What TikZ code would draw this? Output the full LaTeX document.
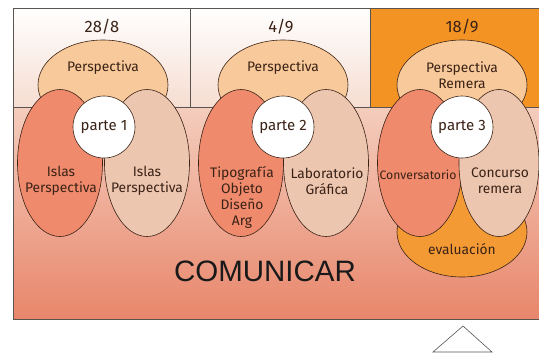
\documentclass[tikz,border=0pt]{standalone}
\usepackage{fontspec}
\setmainfont{Fira Sans}
\newfontfamily\bannerfont{Liberation Sans}
\usepackage{tikz}
\usetikzlibrary{shapes.geometric}
\usetikzlibrary{positioning}
\definecolor{framegray}{HTML}{5A5450}
\definecolor{inkbrown}{HTML}{3A2216}
\definecolor{peach}{HTML}{F8C99A}
\definecolor{salmon}{HTML}{EF8A6D}
\definecolor{blush}{HTML}{EDC6B0}
\definecolor{tangerine}{HTML}{F39A35}
\definecolor{dayorange}{HTML}{F39324}
\definecolor{bandtop}{HTML}{F4CDBD}
\definecolor{bandbot}{HTML}{E8866B}
\definecolor{boxbot}{HTML}{F6DDD1}
\tikzstyle{dome} = [ellipse,
    minimum width=130pt,
    minimum height=90pt,
    inner sep=0pt,
    draw=inkbrown,
    fill=peach]
\tikzstyle{lobe} = [ellipse,
    minimum width=85pt,
    minimum height=147pt,
    inner sep=0pt,
    draw=inkbrown,
    fill=salmon]
\tikzstyle{lobelight} = [lobe, fill=blush]
\tikzstyle{hub} = [circle,
    minimum size=62pt,
    inner sep=0pt,
    draw=inkbrown,
    fill=white,
    text=inkbrown,
    font=\fontsize{15}{17}\selectfont]
\tikzstyle{lbl} = [text=inkbrown, align=center, inner sep=0pt,
    font=\fontsize{13.8}{16}\selectfont]
\tikzstyle{datelbl} = [text=inkbrown, inner sep=0pt,
    font=\fontsize{16.5}{18}\selectfont]

\begin{document}
\begin{tikzpicture}[x=1pt, y=-1pt, line width=0.6pt]
\useasboundingbox (0,0) rectangle (539,357);

% days and band
\shade[top color=white, bottom color=boxbot] (13,8) rectangle (370,107);
\fill[dayorange] (370,8) rectangle (550,107);
\shade[top color=bandtop, bottom color=bandbot] (13,107) rectangle (550,319);
\draw[framegray] (13,8) rectangle (550,319);
\draw[framegray] (13,107) -- (550,107);
\draw[framegray] (190,8) -- (190,107);
\draw[framegray] (370,8) -- (370,107);

\node (day1) [datelbl] at (102,27) {28/8};
\node (day2) [datelbl] at (281,27) {4/9};
\node (day3) [datelbl] at (462,27) {18/9};

% parte 1
\node (dome1) [dome] at (103,85) {};
\node (domet1) [lbl] at (103,68) {Perspectiva};
\node (lobe1a) [lobe] at (60,163) {};
\node (lobe1b) [lobelight] at (147,163) {};
\node (hub1) [hub] at (104,127) {parte 1};
\node (txt1a) [lbl] at (61,181) {Islas\\Perspectiva};
\node (txt1b) [lbl] at (147,181) {Islas\\Perspectiva};

% parte 2
\node (dome2) [dome] at (283,85) {};
\node (domet2) [lbl] at (283,68) {Perspectiva};
\node (lobe2a) [lobe] at (241,163) {};
\node (lobe2b) [lobelight] at (326,163) {};
\node (hub2) [hub] at (283,127) {parte 2};
\node (txt2a) [lbl] at (242,197) {Tipografía\\Objeto\\Diseño\\Arg};
\node (txt2b) [lbl] at (327,181) {Laboratorio\\Gráfica};

% parte 3
\node (eval3) [dome, fill=tangerine] at (462,232) {};
\node (evalt3) [lbl] at (462,249) {evaluación};
\node (dome3) [dome] at (462,85) {};
\node (domet3) [lbl] at (462,75) {Perspectiva\\Remera};
\node (lobe3a) [lobe] at (420,163) {};
\node (lobe3b) [lobelight, minimum width=80pt] at (499,163) {};
\node (hub3) [hub] at (462,127) {parte 3};
\node (txt3a) [lbl, font=\fontsize{12.2}{14}\selectfont] at (418,175) {Conversatorio};
\node (txt3b) [lbl] at (500,181) {Concurso\\remera};

\node (motto) [text=black!90] at (265,271) {\bannerfont\fontsize{29.5}{32}\selectfont COMUNICAR};

\draw[framegray] (463,326) -- (492,352) -- (433,352) -- cycle;

\end{tikzpicture}
\end{document}
